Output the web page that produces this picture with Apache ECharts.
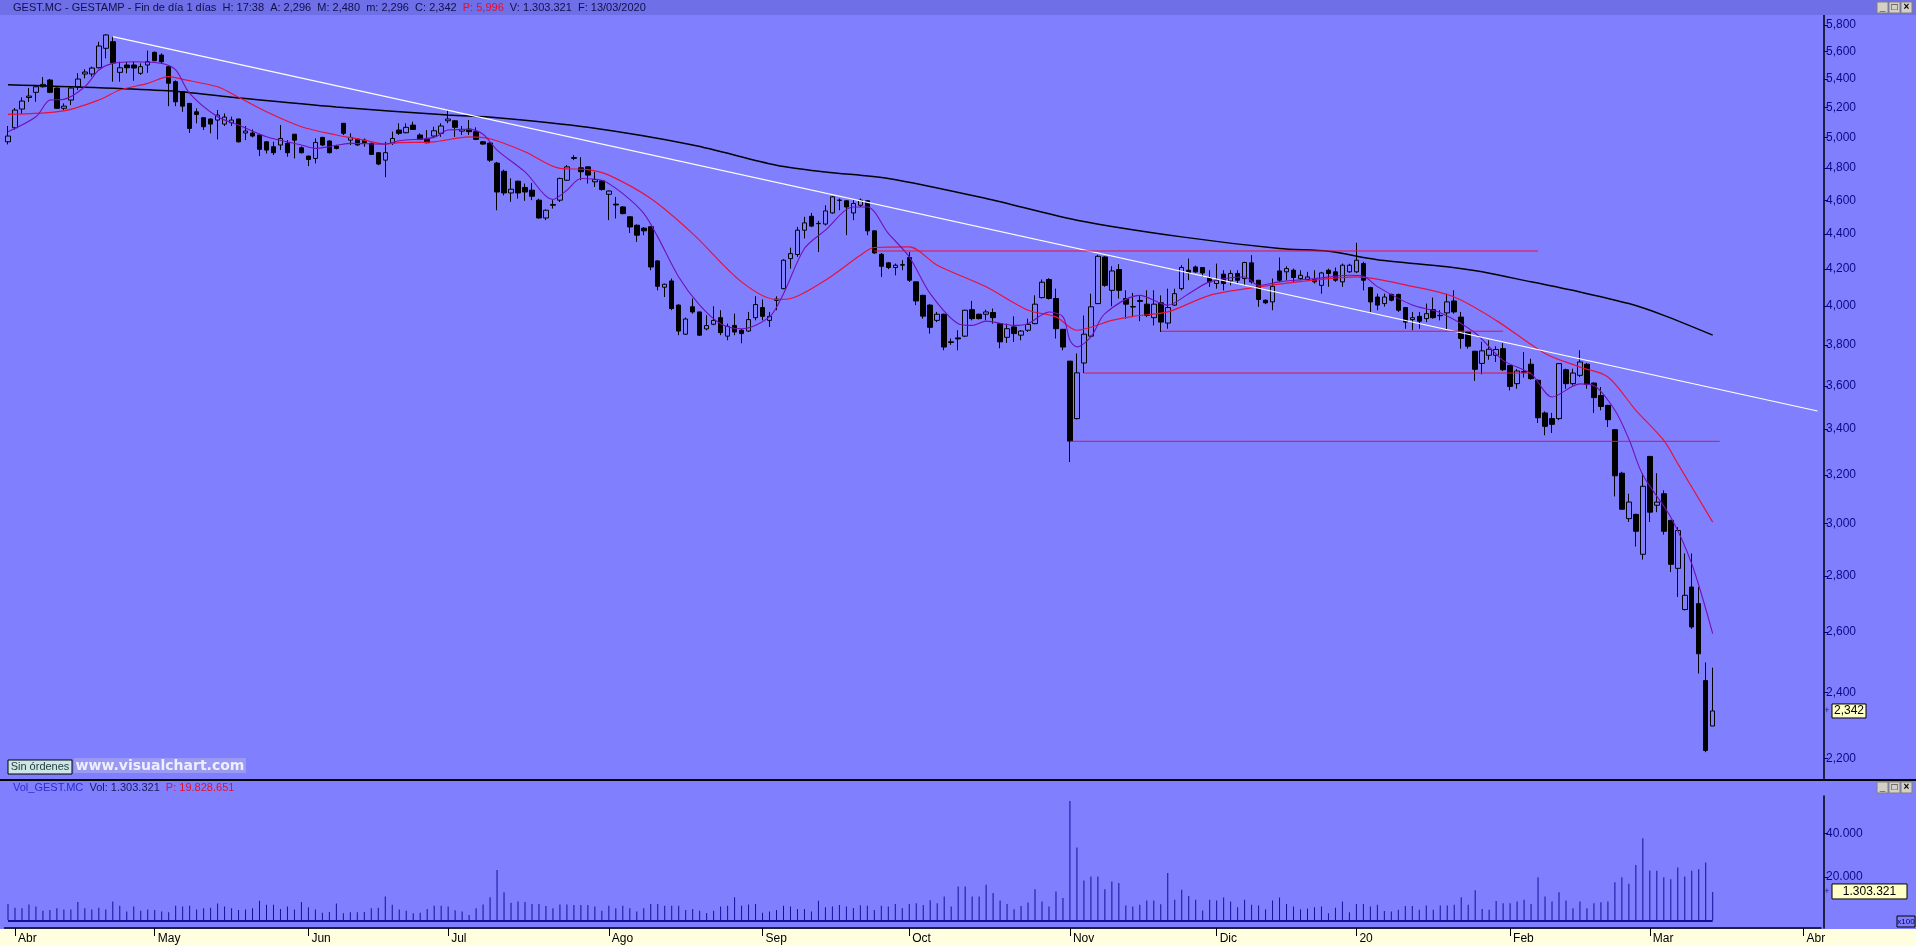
<!DOCTYPE html>
<html><head><meta charset="utf-8">
<script src="https://cdn.jsdelivr.net/npm/echarts@6/dist/echarts.min.js"></script>
<style>html,body{margin:0;padding:0;background:#8080ff;overflow:hidden}#c{width:1916px;height:946px}</style>
</head><body><div id="c"></div>
<script>
// ---- DATA (prices in EUR) ----
const openP = [4.970,5.063,5.190,5.270,5.306,5.345,5.393,5.336,5.195,5.252,5.345,5.436,5.436,5.481,5.624,5.673,5.448,5.501,5.501,5.441,5.501,5.594,5.574,5.489,5.381,5.310,5.229,5.171,5.131,5.122,5.115,5.088,5.097,5.122,5.028,5.028,5.015,4.970,4.938,4.949,4.960,5.020,4.931,4.877,4.862,4.999,4.975,4.942,5.093,4.981,4.988,4.981,4.960,4.899,4.851,4.960,5.048,5.030,5.081,5.015,4.986,5.008,5.026,5.110,5.110,5.041,5.054,5.037,4.970,4.962,4.832,4.780,4.645,4.718,4.679,4.662,4.601,4.494,4.570,4.601,4.724,4.862,4.802,4.808,4.714,4.720,4.637,4.577,4.560,4.501,4.451,4.434,4.442,4.246,4.101,4.135,4.005,3.854,3.996,3.969,3.881,3.905,3.939,3.844,3.899,3.874,3.870,3.939,3.992,3.925,4.030,4.093,4.259,4.282,4.422,4.504,4.460,4.458,4.524,4.600,4.597,4.524,4.570,4.597,4.418,4.283,4.235,4.209,4.222,4.265,4.130,4.057,4.005,3.925,3.957,3.815,3.835,3.844,3.981,3.957,3.957,3.966,3.908,3.838,3.891,3.849,3.874,3.908,4.045,4.143,4.040,3.879,3.719,3.447,3.710,3.844,4.013,4.268,4.084,4.198,4.040,3.997,4.029,4.010,3.939,4.017,3.911,4.005,4.093,4.194,4.212,4.209,4.154,4.121,4.172,4.135,4.176,4.148,4.235,4.139,4.031,4.022,4.190,4.185,4.194,4.148,4.143,4.143,4.111,4.194,4.185,4.130,4.185,4.185,4.231,4.099,4.048,4.013,4.062,4.062,3.992,3.929,3.946,3.934,3.981,3.951,3.964,4.027,3.942,3.865,3.768,3.708,3.748,3.748,3.781,3.698,3.610,3.668,3.704,3.626,3.473,3.447,3.447,3.677,3.610,3.650,3.704,3.613,3.554,3.508,3.397,3.207,3.020,3.037,2.881,3.279,3.074,3.121,3.013,2.828,2.678,2.759,2.699,2.438,2.296];
const highP = [5.075,5.197,5.271,5.336,5.350,5.414,5.400,5.340,5.229,5.345,5.441,5.470,5.489,5.673,5.730,5.711,5.525,5.525,5.525,5.513,5.606,5.600,5.586,5.490,5.390,5.310,5.230,5.195,5.131,5.125,5.183,5.160,5.138,5.125,5.075,5.052,5.020,4.975,4.970,5.081,4.981,5.020,4.940,4.880,4.992,5.003,4.980,4.950,5.095,5.026,4.990,4.992,4.965,4.900,4.970,5.037,5.093,5.093,5.104,5.026,5.048,5.070,5.093,5.183,5.115,5.075,5.115,5.066,4.975,4.965,4.840,4.790,4.736,4.720,4.703,4.707,4.610,4.545,4.601,4.740,4.820,4.883,4.870,4.810,4.776,4.725,4.660,4.621,4.565,4.505,4.455,4.440,4.445,4.250,4.120,4.148,4.010,3.940,4.040,3.970,3.952,3.999,3.978,3.908,3.960,3.880,3.969,4.052,4.035,3.969,4.052,4.255,4.321,4.441,4.501,4.524,4.477,4.570,4.625,4.611,4.600,4.601,4.611,4.600,4.420,4.290,4.240,4.231,4.250,4.296,4.130,4.060,4.010,3.969,3.960,3.832,3.874,3.980,4.027,3.960,3.981,3.987,3.910,3.908,3.946,3.875,3.934,4.057,4.143,4.150,4.093,3.880,3.720,3.757,3.950,4.066,4.280,4.272,4.216,4.228,4.084,4.070,4.057,4.084,4.084,4.057,4.093,4.093,4.222,4.259,4.220,4.212,4.194,4.231,4.194,4.194,4.194,4.241,4.278,4.140,4.035,4.148,4.265,4.216,4.203,4.194,4.185,4.194,4.185,4.203,4.209,4.231,4.230,4.349,4.241,4.103,4.066,4.066,4.066,4.066,3.995,3.969,3.969,4.013,4.045,3.978,4.066,4.084,3.969,3.870,3.770,3.815,3.823,3.793,3.809,3.700,3.680,3.764,3.731,3.630,3.480,3.473,3.710,3.682,3.682,3.773,3.710,3.615,3.594,3.510,3.400,3.213,3.121,3.040,3.207,3.280,3.207,3.135,3.015,2.986,2.884,2.884,2.759,2.497,2.480];
const lowP = [4.953,5.050,5.156,5.238,5.240,5.340,5.300,5.190,5.183,5.217,5.322,5.405,5.417,5.477,5.550,5.381,5.381,5.441,5.388,5.430,5.445,5.530,5.513,5.210,5.210,5.171,5.028,5.093,5.048,5.026,4.986,5.075,5.075,4.965,4.981,5.000,4.877,4.894,4.884,4.916,4.873,4.862,4.894,4.813,4.830,4.942,4.894,4.920,5.015,4.949,4.945,4.938,4.884,4.819,4.743,4.949,5.015,5.026,5.048,4.981,4.960,5.003,5.003,5.093,5.003,5.015,5.015,4.981,4.950,4.840,4.540,4.630,4.591,4.611,4.597,4.601,4.490,4.481,4.550,4.590,4.720,4.851,4.724,4.703,4.682,4.660,4.481,4.491,4.515,4.406,4.354,4.393,4.194,4.084,4.048,3.978,3.849,3.850,3.960,3.845,3.874,3.900,3.849,3.823,3.849,3.808,3.865,3.925,3.925,3.891,3.978,4.090,4.203,4.269,4.374,4.440,4.296,4.450,4.520,4.540,4.393,4.481,4.560,4.393,4.285,4.157,4.200,4.166,4.194,4.130,4.005,3.934,3.857,3.916,3.773,3.800,3.773,3.840,3.925,3.930,3.925,3.908,3.783,3.810,3.815,3.823,3.865,3.905,4.040,4.035,3.832,3.773,3.255,3.443,3.661,3.840,4.010,4.103,3.999,4.040,3.934,3.942,3.921,3.942,3.899,3.865,3.882,4.000,4.084,4.139,4.180,4.157,4.103,4.093,4.084,4.111,4.121,4.111,4.121,3.996,4.010,3.978,4.130,4.139,4.130,4.139,4.139,4.121,4.066,4.103,4.130,4.103,4.180,4.179,4.084,3.969,3.978,3.997,4.025,3.969,3.882,3.874,3.882,3.916,3.934,3.925,3.874,3.960,3.781,3.781,3.623,3.655,3.726,3.715,3.671,3.578,3.586,3.639,3.629,3.427,3.372,3.382,3.440,3.586,3.602,3.642,3.586,3.473,3.485,3.409,3.110,3.055,3.007,2.911,2.861,3.007,3.046,2.957,2.814,2.723,2.675,2.611,2.461,2.218,2.296];
const closeP = [5.008,5.183,5.245,5.280,5.345,5.362,5.306,5.195,5.210,5.336,5.400,5.450,5.479,5.641,5.724,5.517,5.481,5.481,5.479,5.489,5.525,5.532,5.525,5.370,5.240,5.210,5.059,5.153,5.070,5.088,5.149,5.135,5.115,4.970,5.041,5.008,4.921,4.916,4.899,4.992,4.899,4.981,4.899,4.855,4.966,4.949,4.899,4.927,5.026,4.999,4.949,4.964,4.888,4.826,4.899,4.992,5.026,5.066,5.052,4.986,4.964,5.043,5.075,5.122,5.066,5.052,5.037,4.986,4.955,4.851,4.651,4.645,4.668,4.645,4.651,4.625,4.494,4.540,4.575,4.735,4.808,4.868,4.777,4.756,4.728,4.666,4.657,4.572,4.520,4.441,4.393,4.418,4.212,4.106,4.117,3.987,3.870,3.932,3.969,3.849,3.898,3.925,3.862,3.894,3.865,3.857,3.929,4.008,3.946,3.946,4.037,4.250,4.287,4.422,4.465,4.446,4.462,4.536,4.621,4.601,4.560,4.581,4.601,4.418,4.291,4.216,4.209,4.222,4.225,4.139,4.027,3.947,3.889,3.957,3.789,3.812,3.830,3.978,3.934,3.934,3.969,3.939,3.815,3.882,3.857,3.870,3.904,4.010,4.128,4.040,3.882,3.789,3.346,3.662,3.854,3.996,4.272,4.111,4.190,4.084,4.010,3.995,4.025,3.951,4.010,3.916,3.992,4.066,4.209,4.180,4.185,4.179,4.130,4.139,4.121,4.176,4.139,4.237,4.130,4.035,4.017,4.106,4.139,4.203,4.154,4.166,4.157,4.130,4.179,4.176,4.139,4.222,4.222,4.250,4.139,4.022,4.005,4.048,4.031,3.978,3.916,3.939,3.921,3.960,3.939,3.949,4.022,3.969,3.832,3.793,3.679,3.770,3.778,3.777,3.677,3.597,3.671,3.665,3.634,3.451,3.412,3.421,3.707,3.610,3.661,3.715,3.607,3.544,3.503,3.442,3.196,3.058,3.087,2.970,3.152,3.046,3.087,2.970,2.843,2.973,2.729,2.617,2.526,2.223,2.342];
// volume in units of x100 shares
const volume = [7500,5800,5500,7300,6300,4400,4700,5500,5000,5000,8400,5500,5000,5800,5000,8700,6700,4000,6300,4400,5000,4700,4000,3700,6700,6300,6700,5000,5500,5800,7700,6300,5500,4700,5000,5500,9000,7200,7200,5200,6300,5000,8400,6000,5000,3500,3800,7700,3200,3700,3700,3800,5500,5800,11000,7200,5000,4400,3200,3500,5200,6700,6700,6300,4600,4000,2400,5500,7300,10600,23100,12900,8100,8700,8400,7500,7500,6600,5500,7300,7300,7000,7000,7000,6300,4400,6700,5500,6700,5500,4000,5500,7500,7500,6700,6700,6700,4700,5200,4400,3400,4400,6300,6700,10600,6700,7300,7500,3500,4000,4700,6700,6300,5200,5200,4000,9000,6000,6300,7000,6300,5700,6900,6700,4700,6700,6300,7500,5500,7500,7800,7000,9200,7800,10900,6300,15500,
15500,10900,10900,16300,12500,9100,7500,5100,6600,8200,14300,8600,6300,13200,10200,54800,33500,18300,20100,20100,14300,17800,17100,6800,6300,7100,9100,9100,7400,21700,9400,14000,11200,9400,4500,9400,9100,10500,8600,6000,9400,7100,6800,5100,9100,10500,7500,6300,5100,5400,6000,6300,3200,5800,8600,3700,7500,7500,6300,7100,4300,4000,4800,6600,6600,4800,6800,4800,6800,6800,7100,10600,7100,13800,5200,4800,8900,7800,7800,8600,9400,7500,19800,10900,8600,12900,9100,5500,8600,5500,7800,8300,8600,17500,19800,16800,25400,37700,22900,22800,19800,18900,24300,20100,22800,23500,26600,13033.21];
// moving averages / indicator lines: [barIndex, price]
const maSlow = [[0,5.36],[23,5.317],[32,5.272],[47,5.204],[63,5.149],[70,5.131],[83,5.066],[98,4.949],[110,4.819],[117,4.776],[126,4.735],[140,4.611],[153,4.481],[168,4.383],[182,4.316],[189,4.30],[196,4.253],[206,4.213],[211,4.185],[218,4.130],[225,4.075],[232,4.013],[237,3.951],[244,3.849]];
const maMid = [[0,5.154],[8,5.178],[13,5.252],[16,5.322],[20,5.369],[23,5.417],[25,5.398],[30,5.345],[32,5.298],[37,5.171],[42,5.070],[47,5.015],[51,4.981],[54,4.955],[56,4.964],[61,4.970],[66,5.003],[69,4.990],[74,4.905],[79,4.798],[83,4.791],[86,4.756],[92,4.611],[98,4.402],[105,4.130],[110,4.035],[112,4.040],[117,4.139],[122,4.278],[124,4.322],[129,4.325],[133,4.222],[140,4.103],[146,3.978],[150,3.943],[153,3.874],[158,3.925],[161,3.946],[166,3.969],[172,4.057],[179,4.102],[187,4.139],[193,4.157],[201,4.105],[207,4.048],[213,3.925],[220,3.757],[225,3.690],[229,3.642],[233,3.485],[237,3.349],[239,3.248],[244,3.006]];
const maFast = [[0,5.037],[4,5.137],[6,5.252],[8,5.257],[11,5.345],[13,5.465],[15,5.513],[18,5.525],[22,5.513],[24,5.465],[26,5.299],[30,5.137],[33,5.081],[37,5.003],[42,4.949],[44,4.927],[46,4.938],[49,4.960],[54,4.955],[56,4.977],[61,4.999],[63,5.048],[66,5.052],[68,5.020],[70,4.916],[74,4.776],[78,4.605],[80,4.662],[82,4.735],[85,4.724],[88,4.641],[91,4.521],[93,4.383],[96,4.157],[99,4.005],[102,3.908],[105,3.882],[109,3.943],[111,4.066],[114,4.316],[117,4.422],[121,4.560],[123,4.560],[126,4.403],[129,4.269],[132,4.066],[136,3.908],[138,3.899],[140,3.921],[144,3.899],[146,3.908],[149,3.969],[151,3.943],[152,3.823],[153,3.790],[155,3.840],[157,3.960],[162,4.057],[166,4.005],[169,4.066],[172,4.130],[177,4.157],[179,4.111],[182,4.130],[187,4.148],[192,4.166],[194,4.161],[196,4.104],[201,4.005],[205,3.965],[210,3.860],[214,3.723],[218,3.658],[221,3.547],[225,3.609],[227,3.601],[230,3.485],[232,3.355],[234,3.199],[238,3.026],[241,2.845],[244,2.594]];
const trendLine = [[15,5.711],[259,3.482]];
// horizontal levels: [fromIndex, toIndex, price]
const levels = [[124,219,4.302],[165,214,3.869],[154,218,3.661],[152,245,3.345]];
const priceTicks = [2.2,2.4,2.6,2.8,3.0,3.2,3.4,3.6,3.8,4.0,4.2,4.4,4.6,4.8,5.0,5.2,5.4,5.6,5.8];
const volTicks = [20000,40000];
const monthNames = ['20','Feb','Mar','Abr','May','Jun','Jul','Ago','Sep','Oct','Nov','Dic'];
const holidays = ['2019-04-19','2019-04-22','2019-05-01','2019-12-25','2019-12-26','2020-01-01','2020-04-10','2020-04-13'];

// ---- categories: trading days ----
const NCAT = 260;
const dates = [];
(function(){ let d = new Date(Date.UTC(2019,2,29));
  while (dates.length < NCAT) { const w=d.getUTCDay(); const s=d.toISOString().slice(0,10);
    if (w!==0 && w!==6 && holidays.indexOf(s)<0) dates.push(s); d.setUTCDate(d.getUTCDate()+1);} })();
const isMonthStart = dates.map((s,i)=> i>0 && s.slice(5,7)!==dates[i-1].slice(5,7));
const candles = openP.map((o,i)=>[o, closeP[i], lowP[i], highP[i]]);

const FONT = "'Liberation Sans', Arial, sans-serif";
const fmtPrice = v => Number(v).toFixed(3).replace('.', ',');
const fmtVol = v => String(Math.round(v)).replace(/\B(?=(\d{3})+(?!\d))/g, '.');

const chart = echarts.init(document.getElementById('c'), null, {renderer:'canvas'});
const levelSeries = levels.map(l => ({type:'line', xAxisIndex:0, yAxisIndex:0, data:[[l[0],l[2]],[l[1],l[2]]],
  symbol:'none', silent:true, lineStyle:{color:'#e8103c', width:1}, z:4}));

const option = {
  backgroundColor:'#8080ff',
  animation:false,
  grid:[{left:4.5, right:95, top:15, height:764},{left:4.5, right:95, top:796, height:132}],
  xAxis:[
    {type:'category', gridIndex:0, data:dates, axisLine:{show:false}, axisTick:{show:false}, axisLabel:{show:false}, splitLine:{show:false}},
    {type:'category', gridIndex:1, data:dates, axisLine:{show:true, onZero:false, lineStyle:{color:'#000', width:1.5}},
     axisTick:{show:true, alignWithLabel:true, length:8, interval:(i)=>isMonthStart[i], lineStyle:{color:'#000'}},
     axisLabel:{show:true, interval:(i)=>isMonthStart[i], align:'left', margin:5, padding:[0,0,0,3], color:'#000', fontSize:12, fontFamily:FONT,
       formatter:(v)=>monthNames[parseInt(v.slice(5,7),10)-1]}, splitLine:{show:false}}
  ],
  yAxis:[
    {type:'log', gridIndex:0, position:'right', offset:3, min:2.1406, max:5.877, logBase:10,
     axisLine:{show:true, lineStyle:{color:'#000', width:1.5}},
     axisTick:{show:true, length:4, customValues:priceTicks, lineStyle:{color:'#000080'}},
     axisLabel:{show:true, customValues:priceTicks, formatter:fmtPrice, color:'#0a0a86', fontSize:12, fontFamily:FONT, margin:2},
     splitLine:{show:false}},
    {type:'value', gridIndex:1, position:'right', offset:3, min:-3540, max:57150,
     axisLine:{show:true, lineStyle:{color:'#000', width:1.5}},
     axisTick:{show:true, length:4, customValues:volTicks, lineStyle:{color:'#000080'}},
     axisLabel:{show:true, customValues:volTicks, formatter:fmtVol, color:'#0a0a86', fontSize:12, fontFamily:FONT, margin:2},
     splitLine:{show:false}}
  ],
  series:[
    {type:'candlestick', xAxisIndex:0, yAxisIndex:0, data:candles, barWidth:5, z:2,
     itemStyle:{color:'#8080ff', color0:'#000', borderColor:'#000', borderColor0:'#000', borderWidth:1}},
    {type:'line', xAxisIndex:0, yAxisIndex:0, data:maSlow, symbol:'none', smooth:0.3, lineStyle:{color:'#000', width:1.5}, z:3},
    {type:'line', xAxisIndex:0, yAxisIndex:0, data:maMid, symbol:'none', smooth:0.3, lineStyle:{color:'#e8103c', width:1.2}, z:3},
    {type:'line', xAxisIndex:0, yAxisIndex:0, data:maFast, symbol:'none', smooth:0.3, lineStyle:{color:'#7010b8', width:1.1}, z:3},
    {type:'line', xAxisIndex:0, yAxisIndex:0, data:trendLine, symbol:'none', lineStyle:{color:'#ffffff', width:1.2}, z:4},
    ...levelSeries,
    {type:'bar', xAxisIndex:1, yAxisIndex:1, data:volume, barWidth:1, itemStyle:{color:'#10109c'}, z:2,
     markLine:{silent:true, symbol:'none', label:{show:false}, lineStyle:{color:'#10109c', width:2, type:'solid'},
       data:[[{coord:[0,0]},{coord:[volume.length-1,0]}]]}}
  ]
};
chart.setOption(option);

// ---- decorations ----
const lastC = closeP[closeP.length-1];
const lastV = volume[volume.length-1];
const yC = chart.convertToPixel({yAxisIndex:0}, lastC);
const yV = chart.convertToPixel({yAxisIndex:1}, lastV);
function winButtons(y){
  const xs=[1877,1889,1901], g=['_','□','×'], els=[];
  xs.forEach((x,k)=>{
    els.push({type:'rect', shape:{x:x, y:y, width:11, height:11}, style:{fill:'#d4d0c8', stroke:'#808080', lineWidth:1}, z:50});
    els.push({type:'text', x:x+5.5, y:y+5.5, style:{text:g[k], fill:'#000', font:'bold 10px '+FONT, align:'center', verticalAlign:'middle'}, z:51});
  });
  return els;
}
chart.setOption({graphic:[
  {type:'rect', shape:{x:0,y:0,width:1916,height:15}, style:{fill:'#6f6fe8'}, z:40},
  {type:'text', x:13, y:8, z:41, style:{verticalAlign:'middle', font:'11px '+FONT,
    text:'{a|GEST.MC - GESTAMP - Fin de día 1 días  H: 17:38  A: 2,296  M: 2,480  m: 2,296  C: 2,342  }{r|P: 5,996}{a|  V: 1.303.321  F: 13/03/2020}',
    rich:{a:{fill:'#10104a', font:'11px '+FONT}, r:{fill:'#e01030', font:'11px '+FONT}}}},
  ...winButtons(2),
  {type:'line', shape:{x1:0,y1:780,x2:1916,y2:780}, style:{stroke:'#000', lineWidth:2}, z:40},
  ...winButtons(782),
  {type:'text', x:13, y:788, z:41, style:{verticalAlign:'middle', font:'11px '+FONT,
    text:'{b|Vol_GEST.MC}{a|  Vol: 1.303.321  }{r|P: 19.828.651}',
    rich:{b:{fill:'#2a2ad0', font:'11px '+FONT}, a:{fill:'#18185a', font:'11px '+FONT}, r:{fill:'#e01030', font:'11px '+FONT}}}},
  {type:'rect', shape:{x:8,y:760,width:64,height:14}, style:{fill:'#cfe6e6', stroke:'#000', lineWidth:1}, z:41},
  {type:'text', x:40, y:767, z:42, style:{text:'Sin órdenes', fill:'#1c3a3a', font:'11px '+FONT, align:'center', verticalAlign:'middle'}},
  {type:'rect', shape:{x:74,y:758,width:172,height:15}, style:{fill:'#9a9af2'}, z:41},
  {type:'text', x:160, y:766, z:42, style:{text:'www.visualchart.com', fill:'#eeeeff', font:'bold 14px "DejaVu Sans", sans-serif', align:'center', verticalAlign:'middle'}},
  {type:'rect', shape:{x:0,y:929,width:1916,height:17}, style:{fill:'#ffffe0'}, z:-1},
  // last close box
  {type:'text', x:1827, y:yC, z:45, style:{text:'+', fill:'#202080', font:'9px '+FONT, align:'center', verticalAlign:'middle'}},
  {type:'rect', shape:{x:1832, y:yC-7, width:34, height:14}, style:{fill:'#ffffc8', stroke:'#000', lineWidth:1}, z:45},
  {type:'text', x:1849, y:yC, z:46, style:{text:fmtPrice(lastC), fill:'#000', font:'12px '+FONT, align:'center', verticalAlign:'middle'}},
  // last volume box
  {type:'text', x:1827, y:yV, z:45, style:{text:'+', fill:'#202080', font:'9px '+FONT, align:'center', verticalAlign:'middle'}},
  {type:'rect', shape:{x:1832, y:yV-8, width:75, height:15}, style:{fill:'#ffffc8', stroke:'#000', lineWidth:1}, z:45},
  {type:'text', x:1869.5, y:yV, z:46, style:{text:fmtVol(lastV*100), fill:'#000', font:'12px '+FONT, align:'center', verticalAlign:'middle'}},
  // x100 box
  {type:'rect', shape:{x:1897, y:916, width:18, height:11}, style:{fill:'#8080ff', stroke:'#000', lineWidth:1}, z:45},
  {type:'text', x:1906, y:921.5, z:46, style:{text:'x100', fill:'#000060', font:'8px '+FONT, align:'center', verticalAlign:'middle'}}
]});
</script>
</body></html>
